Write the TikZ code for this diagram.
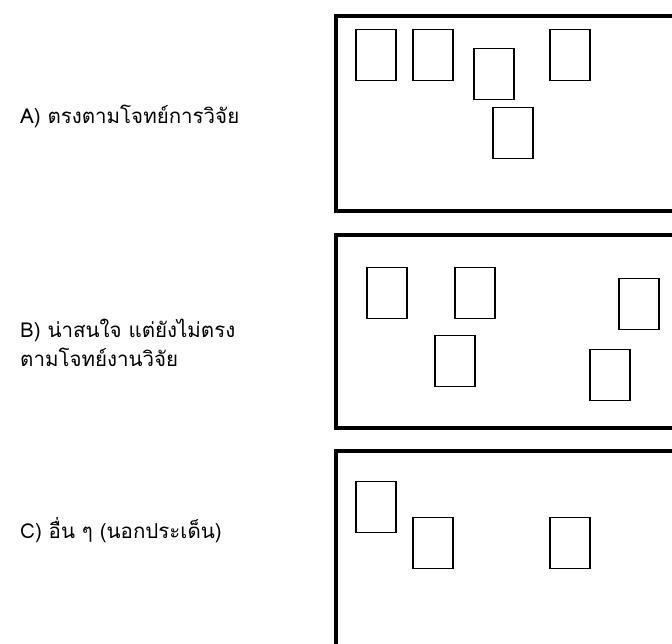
\documentclass[tikz,border=0pt]{standalone}
\usepackage{fontspec}
\newfontfamily\thaifont[Script=Thai]{Loma}
\begin{document}
\begin{tikzpicture}[x=1pt,y=1pt,
  panel/.style={draw=black,line width=3.3pt},
  sbox/.style={draw=black,line width=1.3pt,minimum width=40pt,minimum height=51pt,inner sep=0pt},
  lbl/.style={anchor=west,inner sep=0pt,font=\thaifont\fontsize{20.5}{27}\selectfont}]
\clip (0,0) rectangle (672,643);
\fill[white] (0,0) rectangle (672,643);
% panels (y = 643 - image y)
\draw[panel] (700,627) -- (336,627) -- (336,432) -- (700,432);
\draw[panel] (700,408) -- (336,408) -- (336,215) -- (700,215);
\draw[panel] (700,192) -- (336,192) -- (336,-20);
% panel A boxes
\node[sbox] (a1) at (376,588) {};
\node[sbox] (a2) at (433,588) {};
\node[sbox] (a3) at (494,569) {};
\node[sbox] (a4) at (570,588) {};
\node[sbox] (a5) at (513,510) {};
% panel B boxes
\node[sbox] (b1) at (387,350) {};
\node[sbox] (b2) at (475,350) {};
\node[sbox] (b3) at (455,282) {};
\node[sbox] (b4) at (639,339) {};
\node[sbox] (b5) at (610,268) {};
% panel C boxes
\node[sbox] (c1) at (376,136) {};
\node[sbox] (c2) at (433,100) {};
\node[sbox] (c3) at (570,100) {};
% labels
\node[lbl] (la) at (20,527) {A) ตรงตามโจทย์การวิจัย};
\node[lbl] (lb1) at (20,313) {B) น่าสนใจ แต่ยังไม่ตรง};
\node[lbl] (lb2) at (20,286) {ตามโจทย์งานวิจัย};
\node[lbl] (lc) at (20,113) {C) อื่น ๆ (นอกประเด็น)};
\end{tikzpicture}
\end{document}
